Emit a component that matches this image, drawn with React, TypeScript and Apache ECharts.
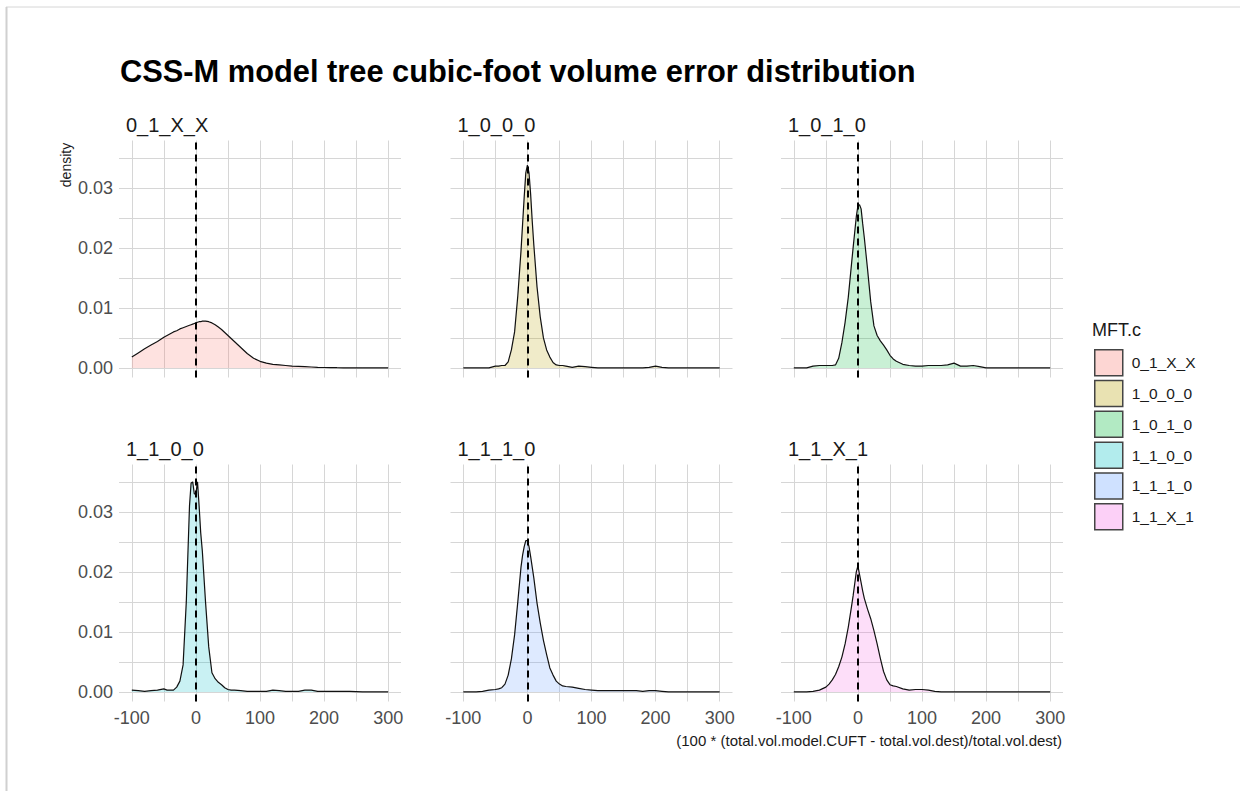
import React, { useEffect, useRef } from "react";
import * as echarts from "echarts";

// ---------- data ----------
const PANELS = ["0_1_X_X", "1_0_0_0", "1_0_1_0", "1_1_0_0", "1_1_1_0", "1_1_X_1"];
const FILLS = ["#F8766D", "#B79F00", "#00BA38", "#00BFC4", "#619CFF", "#F564E3"];

const X_GRID = [-100, -90, -80, -70, -60, -50, -45, -40, -35, -30, -25, -20, -15, -10, -7.5, -5, -2.5, 0, 2.5, 5, 7.5, 10, 15, 20, 25, 30, 35, 40, 45, 50, 55, 60, 70, 80, 90, 100, 110, 120, 130, 140, 150, 160, 170, 180, 190, 200, 210, 220, 230, 240, 260, 280, 300];

const D_0_1_X_X = [0.0018, 0.0025, 0.0032, 0.0038, 0.0044, 0.0051, 0.0054, 0.0057, 0.006, 0.0062, 0.0065, 0.0067, 0.0069, 0.0071, 0.0072, 0.0073, 0.0074, 0.0075, 0.0076, 0.0077, 0.0077, 0.0078, 0.0078, 0.0077, 0.0075, 0.0072, 0.0068, 0.0064, 0.0059, 0.0054, 0.0049, 0.0044, 0.0034, 0.0024, 0.0016, 0.0011, 0.0008, 0.0006, 0.0005, 0.0004, 0.0003, 0.00025, 0.0002, 0.00015, 0.0001, 0.00007, 0.00005, 0.00003, 0.00002, 0.00001, 0, 0, 0];
const D_1_0_0_0 = [0, 0, 0, 0, 0, 0.0003, 0.0003, 0.0004, 0.0004, 0.001, 0.003, 0.006, 0.012, 0.0195, 0.024, 0.0285, 0.0325, 0.0338, 0.0325, 0.029, 0.0245, 0.0205, 0.0135, 0.0085, 0.005, 0.003, 0.0018, 0.0009, 0.0005, 0.0004, 0.0004, 0.0003, 0.0001, 0.0003, 0.0002, 0.0001, 0, 0, 0, 0, 0, 0, 0, 0, 0.0001, 0.0003, 0.0001, 0, 0, 0, 0, 0, 0];
const D_1_0_1_0 = [0, 0, 0, 0.0003, 0.0004, 0.0004, 0.0004, 0.0004, 0.0005, 0.0016, 0.0042, 0.0076, 0.0118, 0.0173, 0.02, 0.0226, 0.0252, 0.027, 0.0272, 0.0265, 0.024, 0.0217, 0.0165, 0.011, 0.007, 0.0054, 0.0045, 0.0038, 0.003, 0.0021, 0.0015, 0.0011, 0.0006, 0.0004, 0.0003, 0.0003, 0.0004, 0.0004, 0.0004, 0.0005, 0.0008, 0.0003, 0.0003, 0.0004, 0.0002, 0, 0, 0, 0, 0, 0, 0, 0];
const D_1_1_0_0 = [0.0003, 0.0002, 0.0001, 0.0002, 0.0003, 0.0005, 0.0003, 0.0003, 0.0003, 0.0008, 0.0018, 0.0045, 0.015, 0.031, 0.0348, 0.035, 0.033, 0.033, 0.035, 0.031, 0.0265, 0.0235, 0.015, 0.0075, 0.0032, 0.0022, 0.0016, 0.0012, 0.0007, 0.0004, 0.0003, 0.0003, 0.0002, 0.0001, 0.0001, 0.0001, 0.0001, 0.0003, 0.0002, 0.0001, 0.0001, 0.0001, 0.0003, 0.0003, 0.0001, 0.0001, 0.0001, 0.0001, 0.0001, 0.0001, 0, 0, 0];
const D_1_1_1_0 = [0, 0, 0, 0.0001, 0.0003, 0.0004, 0.0005, 0.0007, 0.0013, 0.0028, 0.0055, 0.0095, 0.015, 0.0208, 0.0228, 0.0242, 0.0252, 0.0252, 0.0242, 0.0226, 0.0208, 0.019, 0.0148, 0.0115, 0.0086, 0.0062, 0.004, 0.0028, 0.0018, 0.0013, 0.001, 0.0009, 0.0008, 0.0006, 0.0004, 0.0003, 0.0002, 0.0002, 0.0002, 0.0002, 0.0002, 0.0002, 0.0002, 0.0001, 0.0002, 0.0002, 0.0001, 0, 0, 0, 0, 0, 0];
const D_1_1_X_1 = [0, 0, 0, 0.0001, 0.0003, 0.0008, 0.0013, 0.002, 0.0029, 0.0042, 0.0058, 0.008, 0.0108, 0.0142, 0.016, 0.018, 0.02, 0.021, 0.0196, 0.0182, 0.0168, 0.0156, 0.0138, 0.0122, 0.0102, 0.008, 0.0056, 0.0034, 0.002, 0.0012, 0.001, 0.0009, 0.0005, 0.0003, 0.0004, 0.0004, 0.0003, 0.0001, 0, 0, 0, 0, 0, 0, 0, 0, 0, 0, 0, 0, 0, 0, 0];

const DENSITIES = [D_0_1_X_X, D_1_0_0_0, D_1_0_1_0, D_1_1_0_0, D_1_1_1_0, D_1_1_X_1];

const X_TICKS = [-100, -50, 0, 50, 100, 150, 200, 250, 300];
const X_LABELS = [-100, 0, 100, 200, 300];
const Y_TICKS = [0, 0.005, 0.01, 0.015, 0.02, 0.025, 0.03, 0.035];
const Y_LABELS = [0, 0.01, 0.02, 0.03];
const REF_LINE = 0;

const TITLE = "CSS-M model tree cubic-foot volume error distribution";
const X_TITLE = "(100 * (total.vol.model.CUFT - total.vol.dest)/total.vol.dest)";
const Y_TITLE = "density";
const LEGEND_TITLE = "MFT.c";

// ---------- layout ----------
const FONT = '"Liberation Sans", Arial, sans-serif';
const COL_LEFT = [119, 450.5, 781];
const ROW_TOP = [140.5, 464.5];
const PW = 282;
const PH = 237;

function rgba(hex: string, a: number) {
  const n = parseInt(hex.slice(1), 16);
  return `rgba(${(n >> 16) & 255},${(n >> 8) & 255},${n & 255},${a})`;
}

export default function App() {
  const ref = useRef<HTMLDivElement>(null);

  useEffect(() => {
    if (!ref.current) return;
    const chart = echarts.init(ref.current, null, { renderer: "svg" });

    const grids: any[] = [];
    const xAxes: any[] = [];
    const yAxes: any[] = [];
    const series: any[] = [];
    const graphics: any[] = [];

    PANELS.forEach((name, i) => {
      const row = Math.floor(i / 3);
      const col = i % 3;
      grids.push({ left: COL_LEFT[col], top: ROW_TOP[row], width: PW, height: PH, containLabel: false });
      xAxes.push({
        type: "value",
        gridIndex: i,
        min: -120,
        max: 320,
        axisLine: { show: false },
        axisTick: { show: false, customValues: X_TICKS },
        axisLabel: {
          show: row === 1,
          customValues: X_LABELS,
          color: "#4d4d4d",
          fontSize: 18,
          fontFamily: FONT,
          margin: 7,
        },
        splitLine: { show: true, lineStyle: { color: "#d6d6d6", width: 1 } },
      });
      yAxes.push({
        type: "value",
        gridIndex: i,
        min: -0.0016,
        max: 0.0379,
        axisLine: { show: false },
        axisTick: { show: false, customValues: Y_TICKS },
        axisLabel: {
          show: col === 0,
          customValues: Y_LABELS,
          formatter: (v: number) => v.toFixed(2),
          color: "#4d4d4d",
          fontSize: 18,
          fontFamily: FONT,
          margin: 6,
        },
        splitLine: { show: true, lineStyle: { color: "#d6d6d6", width: 1 } },
      });
      series.push({
        type: "line",
        name,
        xAxisIndex: i,
        yAxisIndex: i,
        data: X_GRID.map((x, k) => [x, DENSITIES[i][k]]),
        showSymbol: false,
        symbol: "none",
        smooth: false,
        lineStyle: { color: "#111", width: 1.2 },
        itemStyle: { color: rgba(FILLS[i], 0.3) },
        areaStyle: { color: rgba(FILLS[i], 0.3), origin: 0 },
        markLine: {
          silent: true,
          symbol: ["none", "none"],
          label: { show: false },
          lineStyle: { color: "#000", type: [7, 5], width: 2 },
          data: [{ xAxis: REF_LINE }],
        },
        z: 3,
      });
      graphics.push({
        type: "text",
        x: COL_LEFT[col] + 7,
        y: ROW_TOP[row] - 16,
        style: {
          text: name,
          font: `20px ${FONT}`,
          fill: "#1a1a1a",
          verticalAlign: "middle",
          align: "left",
        },
      });
    });

    graphics.push(
      {
        type: "text",
        x: 120,
        y: 71,
        style: { text: TITLE, font: `bold 30.8px ${FONT}`, fill: "#000", verticalAlign: "middle", align: "left" },
      },
      {
        type: "text",
        x: 66,
        y: 165,
        rotation: Math.PI / 2,
        style: { text: Y_TITLE, font: `14px ${FONT}`, fill: "#1a1a1a", verticalAlign: "middle", align: "center" },
      },
      {
        type: "text",
        x: 1062,
        y: 740,
        style: { text: X_TITLE, font: `15px ${FONT}`, fill: "#1a1a1a", verticalAlign: "middle", align: "right" },
      },
      {
        type: "text",
        x: 1092,
        y: 330,
        style: { text: LEGEND_TITLE, font: `18px ${FONT}`, fill: "#1a1a1a", verticalAlign: "middle", align: "left" },
      },
      {
        type: "line",
        shape: { x1: 6, y1: 7, x2: 1240, y2: 7 },
        style: { stroke: "#d6d6d6", lineWidth: 1 },
      },
      {
        type: "line",
        shape: { x1: 6.5, y1: 7, x2: 6.5, y2: 791 },
        style: { stroke: "#d0d0d0", lineWidth: 2 },
      }
    );

    chart.setOption({
      animation: false,
      backgroundColor: "#ffffff",
      grid: grids,
      xAxis: xAxes,
      yAxis: yAxes,
      series,
      legend: {
        orient: "vertical",
        left: 1094,
        top: 349,
        padding: 0,
        itemWidth: 28,
        itemHeight: 26,
        itemGap: 3.3,
        selectedMode: false,
        icon: "rect",
        textStyle: { fontSize: 15.5, fontFamily: FONT, color: "#1a1a1a", padding: [0, 0, 0, 4] },
        data: PANELS.map((name, i) => ({
          name,
          icon: "rect",
          itemStyle: { color: rgba(FILLS[i], 0.3), borderColor: "#444", borderWidth: 1.5 },
        })),
      },
      graphic: graphics,
    });

    return () => chart.dispose();
  }, []);

  return (
    <div
      ref={ref}
      style={{ position: "fixed", left: 0, top: 0, width: 1240, height: 791, background: "#fff" }}
    />
  );
}
